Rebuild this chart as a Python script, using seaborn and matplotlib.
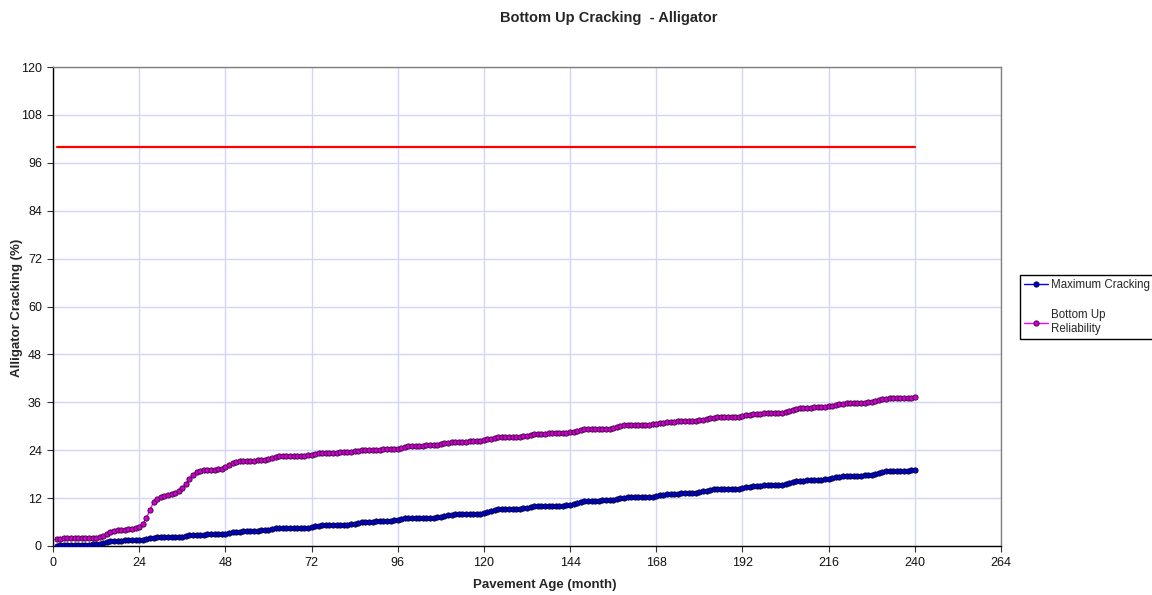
import numpy as np
import pandas as pd
import matplotlib
matplotlib.use("Agg")
import matplotlib.pyplot as plt
import seaborn as sns

# Pavement age in months
months = list(range(1, 241))

# Maximum cracking (%), one value per month, grouped by year
max_cracking = [
    0.1, 0.15, 0.2, 0.2, 0.2, 0.25, 0.25, 0.3, 0.3, 0.35, 0.4, 0.5,
    0.6, 0.8, 1.0, 1.2, 1.3, 1.3, 1.3, 1.4, 1.4, 1.4, 1.4, 1.5,
    1.6, 1.8, 2.0, 2.1, 2.2, 2.2, 2.2, 2.2, 2.2, 2.2, 2.3, 2.3,
    2.5, 2.7, 2.8, 2.8, 2.8, 2.8, 2.9, 2.9, 2.9, 2.9, 3.0, 3.0,
    3.2, 3.5, 3.6, 3.6, 3.7, 3.7, 3.7, 3.8, 3.8, 3.9, 3.9, 4.0,
    4.2, 4.4, 4.5, 4.5, 4.5, 4.5, 4.5, 4.5, 4.6, 4.6, 4.6, 4.7,
    4.9, 5.1, 5.2, 5.2, 5.2, 5.2, 5.3, 5.3, 5.3, 5.3, 5.4, 5.5,
    5.7, 5.9, 6.1, 6.1, 6.1, 6.2, 6.2, 6.2, 6.3, 6.3, 6.4, 6.5,
    6.7, 6.9, 7.0, 7.0, 7.0, 7.1, 7.1, 7.1, 7.1, 7.1, 7.2, 7.3,
    7.5, 7.7, 7.8, 7.9, 7.9, 7.9, 8.0, 8.0, 8.0, 8.0, 8.1, 8.2,
    8.5, 8.8, 9.1, 9.2, 9.2, 9.2, 9.2, 9.3, 9.3, 9.3, 9.4, 9.5,
    9.7, 9.9, 10.0, 10.0, 10.0, 10.0, 10.0, 10.1, 10.1, 10.1, 10.2, 10.3,
    10.5, 10.8, 11.0, 11.2, 11.2, 11.3, 11.3, 11.3, 11.4, 11.4, 11.5, 11.6,
    11.8, 12.0, 12.1, 12.2, 12.2, 12.2, 12.2, 12.2, 12.3, 12.3, 12.4, 12.5,
    12.7, 12.9, 13.0, 13.1, 13.1, 13.1, 13.2, 13.2, 13.2, 13.3, 13.4, 13.5,
    13.7, 13.9, 14.1, 14.2, 14.2, 14.2, 14.2, 14.3, 14.3, 14.3, 14.4, 14.5,
    14.7, 14.9, 15.0, 15.1, 15.1, 15.2, 15.2, 15.2, 15.3, 15.3, 15.4, 15.6,
    15.8, 16.1, 16.3, 16.4, 16.4, 16.5, 16.5, 16.5, 16.6, 16.6, 16.7, 16.8,
    17.0, 17.2, 17.4, 17.5, 17.5, 17.5, 17.6, 17.6, 17.6, 17.7, 17.7, 17.8,
    18.0, 18.3, 18.6, 18.8, 18.8, 18.9, 18.9, 18.9, 18.9, 18.9, 19.0, 19.0,
]

# Bottom-up cracking at design reliability (%), one value per month
reliability_cracking = [
    1.7, 1.8, 1.9, 1.9, 1.9, 1.9, 1.9, 1.9, 1.9, 2.0, 2.0, 2.1,
    2.2, 2.4, 2.9, 3.4, 3.8, 4.0, 4.1, 4.1, 4.2, 4.3, 4.4, 4.7,
    5.5, 7.0, 9.0, 11.0, 11.8, 12.3, 12.6, 12.8, 13.0, 13.3, 13.8, 14.5,
    15.5, 16.8, 17.9, 18.5, 18.9, 19.0, 19.0, 19.1, 19.1, 19.2, 19.4, 19.7,
    20.2, 20.8, 21.1, 21.2, 21.3, 21.3, 21.4, 21.4, 21.5, 21.5, 21.6, 21.7,
    22.0, 22.3, 22.5, 22.5, 22.5, 22.5, 22.5, 22.5, 22.6, 22.6, 22.7, 22.8,
    23.0, 23.2, 23.3, 23.4, 23.4, 23.4, 23.4, 23.5, 23.5, 23.5, 23.6, 23.7,
    23.9, 24.1, 24.1, 24.1, 24.1, 24.1, 24.1, 24.2, 24.2, 24.2, 24.3, 24.4,
    24.6, 24.9, 25.1, 25.1, 25.1, 25.1, 25.1, 25.2, 25.2, 25.3, 25.4, 25.5,
    25.7, 25.9, 26.1, 26.1, 26.1, 26.1, 26.1, 26.2, 26.2, 26.2, 26.3, 26.5,
    26.7, 26.9, 27.1, 27.2, 27.2, 27.3, 27.3, 27.3, 27.4, 27.4, 27.5, 27.6,
    27.8, 28.0, 28.1, 28.1, 28.1, 28.2, 28.2, 28.2, 28.2, 28.3, 28.4, 28.5,
    28.6, 28.8, 29.0, 29.2, 29.2, 29.2, 29.2, 29.2, 29.2, 29.3, 29.4, 29.5,
    29.7, 30.0, 30.2, 30.3, 30.3, 30.3, 30.3, 30.3, 30.3, 30.4, 30.5, 30.6,
    30.8, 30.9, 31.0, 31.1, 31.1, 31.2, 31.2, 31.2, 31.2, 31.3, 31.4, 31.5,
    31.6, 31.8, 32.0, 32.1, 32.2, 32.2, 32.3, 32.3, 32.3, 32.3, 32.4, 32.5,
    32.7, 32.9, 33.0, 33.1, 33.1, 33.2, 33.2, 33.2, 33.2, 33.3, 33.4, 33.5,
    33.7, 34.0, 34.3, 34.5, 34.6, 34.6, 34.6, 34.7, 34.7, 34.8, 34.9, 35.0,
    35.1, 35.3, 35.5, 35.6, 35.7, 35.8, 35.8, 35.8, 35.9, 35.9, 36.0, 36.1,
    36.3, 36.6, 36.8, 36.9, 37.0, 37.0, 37.0, 37.0, 37.1, 37.1, 37.2, 37.3,
]

# Design limit (%)
limit_value = 100
design_limit = [limit_value] * len(months)

series_labels = ["Maximum Cracking", "Bottom Up\nReliability"]

x_ticks = list(range(0, 265, 24))
y_ticks = list(range(0, 121, 12))

sns.set_style("white")
plt.rcParams["font.family"] = ["Liberation Sans", "DejaVu Sans"]

fig = plt.figure(figsize=(11.52, 5.95), dpi=100)
ax = fig.add_axes([53 / 1152, 1 - 546 / 595, 948 / 1152, 479 / 595])

df = pd.DataFrame({
    "month": months,
    "max": max_cracking,
    "rel": reliability_cracking,
    "limit": design_limit,
})

sns.lineplot(data=df, x="month", y="limit", ax=ax, color="#ff0000",
             linewidth=1.6, zorder=3)
sns.lineplot(data=df, x="month", y="rel", ax=ax, color="#ff00ff",
             linewidth=1.0, marker="o", markersize=3.8,
             markerfacecolor="#cc00cc", markeredgecolor="#3a003a",
             markeredgewidth=0.6, zorder=4)
sns.lineplot(data=df, x="month", y="max", ax=ax, color="#0000ff",
             linewidth=1.0, marker="o", markersize=3.8,
             markerfacecolor="#0000cc", markeredgecolor="#000033",
             markeredgewidth=0.6, zorder=5)

ax.set_xlim(0, 264)
ax.set_ylim(0, 120)
ax.set_xticks(x_ticks)
ax.set_yticks(y_ticks)
ax.grid(True, color="#d4d4fa", linewidth=1.0)
ax.set_axisbelow(True)

for side in ["left", "bottom"]:
    ax.spines[side].set_color("#000000")
    ax.spines[side].set_linewidth(1.0)
for side in ["top", "right"]:
    ax.spines[side].set_color("#808080")
    ax.spines[side].set_linewidth(1.0)

ax.tick_params(axis="both", direction="out", length=4, width=0.8,
               color="#333333", labelsize=9, labelcolor="#111111", pad=4,
               bottom=True, left=True)

ax.set_xlabel("")
ax.set_ylabel("")
fig.text(545 / 1152, 1 - 585 / 595, "Pavement Age (month)", ha="center",
         va="center", fontsize=9.5, fontweight="bold")
fig.text(17 / 1152, 1 - 308 / 595, "Alligator Cracking (%)", ha="center",
         va="center", rotation=90, fontsize=9.5, fontweight="bold")
fig.text(609 / 1152, 1 - 18 / 595, "Bottom Up Cracking  - Alligator",
         ha="center", va="center", fontsize=10.5, fontweight="bold")

handles = [ax.lines[2], ax.lines[1]]
leg = fig.legend(handles, series_labels, loc="upper left",
                 bbox_to_anchor=(1020 / 1152, 1 - 275 / 595),
                 fontsize=8.3, frameon=True, fancybox=False,
                 edgecolor="#000000", framealpha=1, handlelength=2.1,
                 handletextpad=0.2, labelspacing=1.6, borderpad=0.35,
                 borderaxespad=0)
leg.get_frame().set_linewidth(1.0)

fig.savefig("out.png", dpi=100, facecolor="white")
